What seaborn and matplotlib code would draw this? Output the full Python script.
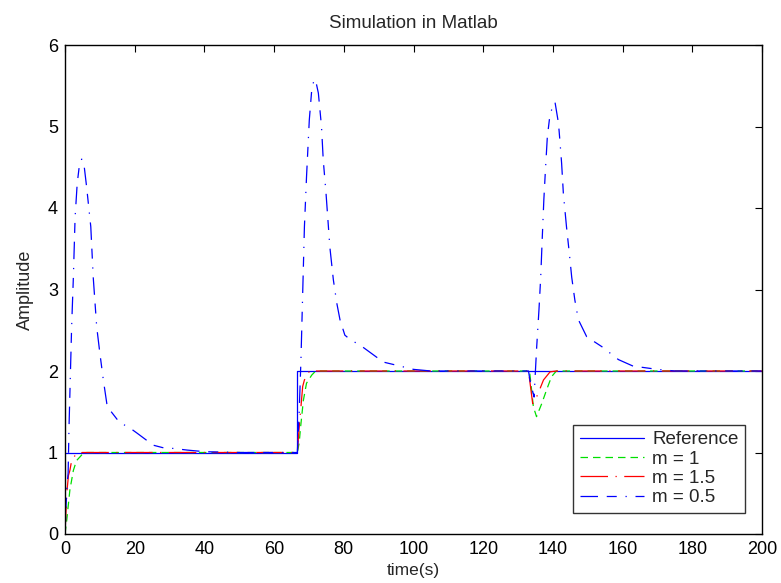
import numpy as np
import pandas as pd
import matplotlib
matplotlib.use("Agg")
import matplotlib.pyplot as plt
import seaborn as sns

# ---- data ----
t_ref = [0, 66.67, 66.67, 200]
y_ref = [1, 1, 2, 2]

t_m1 = [0, 0.5, 1.4, 2.4, 3.3, 4.8, 6, 66.67, 67.2, 67.6, 68.4, 69.3, 70.8, 71.7, 73,
        133.3, 134.4, 135.3, 136.8, 138.2, 139.6, 141, 200]
y_m1 = [0, 0.17, 0.54, 0.78, 0.9, 0.97, 1.0, 1.0, 1.12, 1.31, 1.64, 1.85, 1.95, 1.99, 2.0,
        2.0, 1.56, 1.44, 1.6, 1.77, 1.93, 2.0, 2.0]

t_m15 = [0, 0.5, 1.0, 1.4, 1.9, 3.3, 5, 66.67, 67.2, 67.7, 68.2, 68.7, 70.3, 72,
         133.0, 134.2, 135.0, 135.8, 137.3, 139.2, 141, 200]
y_m15 = [0, 0.5, 0.72, 0.78, 0.9, 0.99, 1.0, 1.0, 1.31, 1.56, 1.81, 1.89, 2.01, 2.0,
         2.0, 1.6, 1.65, 1.73, 1.89, 1.99, 2.0, 2.0]

t_m05 = [0, 0.3, 0.6, 0.9, 1.15, 1.9, 2.4, 2.9, 3.5, 4.2, 4.8, 5.4, 6.2, 7.4, 8.1, 9.1,
         10, 11, 12, 12.9, 15.8, 18, 20.6, 25.3, 28, 31, 35, 40, 50, 66.67,
         67.2, 67.7, 68.2, 68.7, 69.3, 70.1, 70.8, 71.5, 72.0, 72.7, 73.6, 74.1, 74.9,
         76, 77, 78, 78.9, 80.3, 82, 84.6, 89.4, 91.3, 95.2, 100, 105,
         133.0, 133.4, 134.6, 135.3, 136, 136.5, 137, 137.4, 137.9, 138.4, 139.2, 140.6,
         141.6, 142, 142.5, 143, 143.9, 144.7, 145.4, 146.3, 147.3, 149.7, 154, 158.8,
         163, 170, 175, 200]
y_m05 = [0, 0.35, 0.6, 0.75, 1.31, 2.54, 3.15, 3.89, 4.3, 4.55, 4.6, 4.55, 4.26, 3.77, 3.15, 2.54,
         2.22, 1.89, 1.6, 1.52, 1.36, 1.32, 1.24, 1.09, 1.06, 1.05, 1.03, 1.01, 1.0, 1.0,
         1.5, 2.13, 2.95, 3.77, 4.38, 5.08, 5.45, 5.58, 5.55, 5.41, 5.0, 4.59, 4.18,
         3.52, 3.12, 2.83, 2.63, 2.44, 2.38, 2.32, 2.17, 2.11, 2.07, 2.02, 2.0,
         2.0, 1.89, 1.68, 2.26, 2.75, 3.15, 3.69, 4.1, 4.5, 4.87, 5.16, 5.3,
         5.04, 4.83, 4.55, 4.18, 3.77, 3.45, 3.15, 2.87, 2.63, 2.42, 2.3, 2.14,
         2.06, 2.02, 2.0, 2.0]

labels = ["Reference", "m = 1", "m = 1.5", "m = 0.5"]
series_t = [t_ref, t_m1, t_m15, t_m05]
series_y = [y_ref, y_m1, y_m15, y_m05]

x_ticks = [0, 20, 40, 60, 80, 100, 120, 140, 160, 180, 200]
y_ticks = [0, 1, 2, 3, 4, 5, 6]

# ---- styling ----
sns.set_style("white")
plt.rcParams['font.family'] = ['Liberation Sans', 'DejaVu Sans']

colors = ["#0000ff", "#00e000", "#ff0000", "#0000ff"]
styles = ["-", (0, (6, 4)), (0, (22, 6, 1, 6)), (0, (14, 7, 8, 7, 1, 7))]

fig = plt.figure(figsize=(7.81, 5.83), dpi=100)
ax = fig.add_axes([65 / 781, 49 / 583, 697 / 781, 489 / 583])

for lab, tt, yy, c, ls in zip(labels, series_t, series_y, colors, styles):
    df = pd.DataFrame({"t": tt, "y": yy})
    sns.lineplot(data=df, x="t", y="y", ax=ax, color=c, linestyle=ls, lw=0.9,
                 sort=False, estimator=None, label=lab)

ax.set_xlim(0, 200)
ax.set_ylim(0, 6)
ax.set_xticks(x_ticks)
ax.set_yticks(y_ticks)
ax.tick_params(direction="in", top=True, right=True, length=5, width=0.8,
               labelsize=13, colors="black", pad=5)
for s in ax.spines.values():
    s.set_color("black")
    s.set_linewidth(1.0)

ax.set_title("Simulation in Matlab", fontsize=13.5, pad=12)
ax.set_xlabel("time(s)", fontsize=12.5, labelpad=4)
ax.set_ylabel("Amplitude", fontsize=13, labelpad=10)

leg = ax.legend(loc="lower right", bbox_to_anchor=(0.9756, 0.043), fontsize=13.5,
                frameon=True, fancybox=False, shadow=False, handlelength=3.4,
                borderpad=0.35, labelspacing=0.12, handletextpad=0.45,
                borderaxespad=0)
leg.get_frame().set_edgecolor("black")
leg.get_frame().set_linewidth(1.0)
leg._legend_box.align = "left"
# widen frame slightly on both sides like the reference
leg.borderpad = 0.35

fig.savefig("out.png", dpi=100, facecolor="white")
